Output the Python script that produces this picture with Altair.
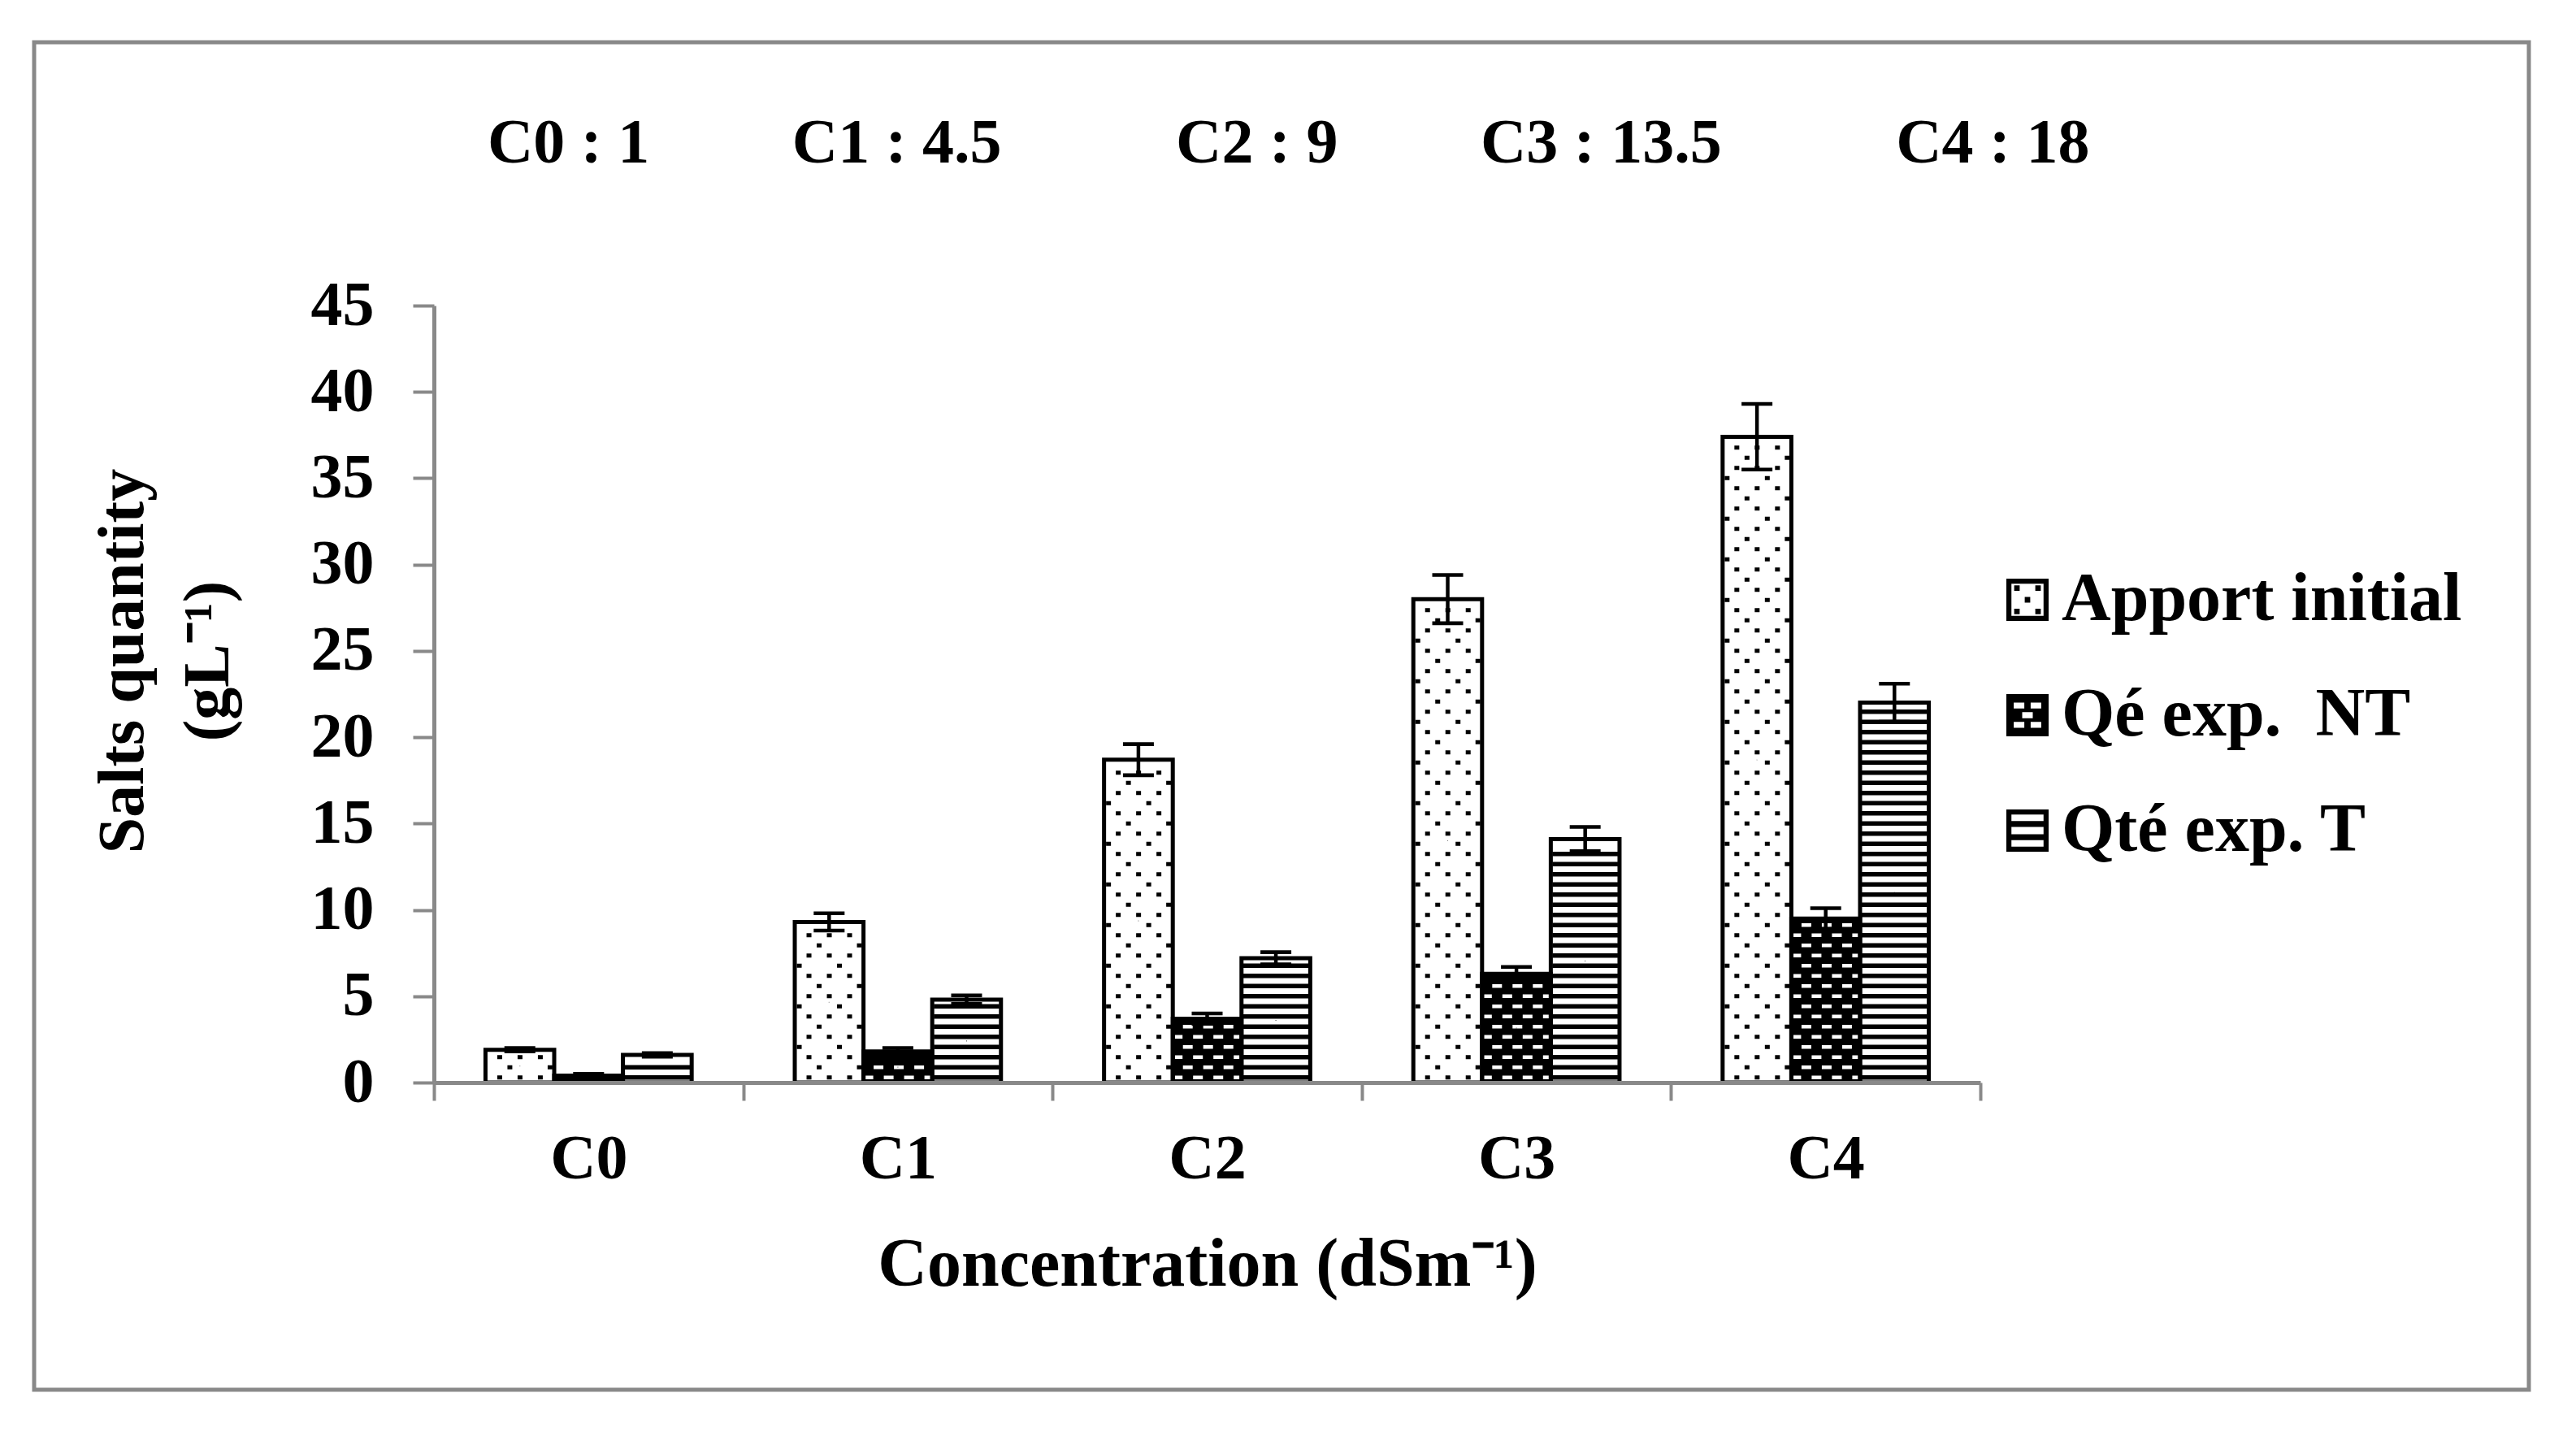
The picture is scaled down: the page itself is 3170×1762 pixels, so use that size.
import altair as alt
import pandas as pd

# ---------------- data ----------------
categories = ["C0", "C1", "C2", "C3", "C4"]
series = ["Apport initial", "Qé exp.\u00a0 NT", "Qté exp. T"]
apport = [1.9, 9.3, 18.7, 28.0, 37.4]
apport_err = [0.1, 0.5, 0.9, 1.4, 1.9]
nt = [0.4, 1.8, 3.7, 6.3, 9.5]
nt_err = [0.1, 0.2, 0.3, 0.4, 0.6]
tt = [1.6, 4.8, 7.2, 14.1, 22.0]
tt_err = [0.1, 0.25, 0.35, 0.7, 1.1]
conc_labels = ["C0 : 1", "C1 : 4.5", "C2 : 9", "C3 : 13.5", "C4 : 18"]
conc_gaps = [9, 11, 9, 11]
y_ticks = [0, 5, 10, 15, 20, 25, 30, 35, 40, 45]

# ---------------- styling ----------------
W, H = 1903, 956
GRAY = "#898989"
FONT = "Liberation Serif"
SUB = W / len(categories) / 4.5      # width of one bar in px
S = SUB / 2.0                        # px per unit of a custom symbol path
ROW = 12.5 * 45 / H                  # hatch pitch (12.5 px) in data units

rows = []
for s, vals, errs in zip(series, [apport, nt, tt], [apport_err, nt_err, tt_err]):
    for c, v, e in zip(categories, vals, errs):
        rows.append(dict(cat=c, series=s, value=v, lo=v - e, hi=v + e, mid=v / 2))
bars = pd.DataFrame(rows)


def u(px):
    return (px - SUB / 2.0) / S


def row_path(intervals, half_h):
    t, b = -half_h / S, half_h / S
    return "".join(f"M{u(a):.4f},{t:.4f}H{u(z):.4f}V{b:.4f}H{u(a):.4f}Z" for a, z in intervals)


def dots(centers, hw=3.0, hh=2.5):
    return row_path([(c - hw, c + hw) for c in centers], hh)


pattern_paths = {
    "A0": dots([17.5, 42.5, 67.5]),
    "A1": dots([30.0, 79.5]),
    "A2": dots([17.5, 42.5, 67.5]),
    "A3": dots([5.5, 55.0]),
    "N0": row_path([(2, 12), (25, 37), (50, 62), (75, 83)], 2.3),
    "N1": row_path([(12.5, 24.5), (37.5, 49.5), (62.5, 74.5)], 2.3),
    "T": row_path([(2, SUB - 2)], 2.75),
}
ptypes = list(pattern_paths.keys())

prow = []
for s, vals in zip(series, [apport, nt, tt]):
    for c, v in zip(categories, vals):
        k = 0
        while (k + 1) * ROW <= v - 0.05:
            if s == series[0]:
                p = f"A{k % 4}"
            elif s == series[1]:
                p = f"N{k % 2}"
            else:
                p = "T"
            prow.append(dict(cat=c, series=s, yc=(k + 0.5) * ROW, ptype=p))
            k += 1
patt = pd.DataFrame(prow)


def sq_cw(x0, y0, x1, y1):
    return f"M{x0},{y0}H{x1}V{y1}H{x0}Z"


def sq_ccw(x0, y0, x1, y1):
    return f"M{x0},{y0}V{y1}H{x1}V{y0}Z"


leg_apport = (sq_cw(-1, -1, 1, 1) + sq_ccw(-0.76, -0.76, 0.76, 0.76)
              + "".join(sq_cw(x - 0.13, y - 0.13, x + 0.13, y + 0.13)
                        for x, y in [(-0.5, -0.55), (0.5, -0.55), (0, 0), (-0.5, 0.55), (0.5, 0.55)]))
leg_nt = (sq_cw(-1, -1, 1, 1)
          + sq_ccw(-0.65, -0.6, -0.15, -0.32) + sq_ccw(0.15, -0.6, 0.65, -0.32)
          + sq_ccw(-0.25, -0.14, 0.25, 0.14)
          + sq_ccw(-0.65, 0.32, -0.15, 0.6) + sq_ccw(0.15, 0.32, 0.65, 0.6))
leg_t = (sq_cw(-1, -1, 1, 1) + sq_ccw(-0.76, -0.76, 0.76, 0.76)
         + sq_cw(-0.76, -0.45, 0.76, -0.17) + sq_cw(-0.76, 0.17, 0.76, 0.45))
legend_paths = [leg_apport, leg_nt, leg_t]

cap_path = "M-1,-0.12H1V0.12H-1Z"
CAP = 38

# ---------------- encodings ----------------
x_axis = alt.Axis(
    title="Concentration (dSm\u207b\u00b9)", titleFont=FONT, titleFontSize=84, titleFontWeight="bold",
    titleColor="black", titleBaseline="alphabetic", titleY=249,
    labelFont=FONT, labelFontSize=78, labelFontWeight="bold", labelColor="black", labelAngle=0,
    labelPadding=33, tickBand="extent", tickColor=GRAY, tickWidth=4, tickSize=22,
    domainColor=GRAY, domainWidth=5, grid=False, zindex=1,
)
y_axis = alt.Axis(
    title=["Salts quantity", "(gL\u207b\u00b9)"], titleFont=FONT, titleFontSize=80, titleFontWeight="bold",
    titleColor="black", titleAngle=270, titleBaseline="alphabetic", titleAlign="center",
    titleLineHeight=105, titleX=-359, titleY=437,
    values=y_ticks, labelFont=FONT, labelFontSize=78, labelFontWeight="bold", labelColor="black",
    labelPadding=48, tickColor=GRAY, tickWidth=4, tickSize=26,
    domainColor=GRAY, domainWidth=5, grid=False, zindex=1,
)
x_enc = alt.X("cat:N", sort=categories, axis=x_axis,
              scale=alt.Scale(domain=categories, paddingInner=0, paddingOuter=0))
xo_enc = alt.XOffset("series:N", sort=series,
                     scale=alt.Scale(domain=series, paddingInner=0, paddingOuter=0.75))
y_scale = alt.Scale(domain=[0, 45], nice=False)

base = alt.Chart(bars)

fill_layer = base.mark_bar(strokeWidth=0).encode(
    x=x_enc, xOffset=xo_enc,
    y=alt.Y("value:Q", scale=y_scale, axis=y_axis),
    fill=alt.condition(alt.datum.series == series[1], alt.value("black"), alt.value("white")),
)

pattern_layer = alt.Chart(patt).mark_point(filled=True, opacity=1, strokeWidth=0, size=SUB * SUB).encode(
    x=x_enc, xOffset=xo_enc,
    y=alt.Y("yc:Q", scale=y_scale, axis=y_axis),
    shape=alt.Shape("ptype:N", scale=alt.Scale(domain=ptypes, range=[pattern_paths[p] for p in ptypes]),
                    legend=None),
    color=alt.condition(alt.datum.series == series[1], alt.value("white"), alt.value("black")),
)

legend_layer = base.mark_point(filled=True, opacity=1, strokeWidth=0, size=1, color="black").encode(
    x=x_enc, xOffset=xo_enc,
    y=alt.Y("mid:Q", scale=y_scale, axis=y_axis),
    shape=alt.Shape("series:N", sort=series,
                    scale=alt.Scale(domain=series, range=legend_paths),
                    legend=alt.Legend(
                        title=None, orient="none", legendX=1919, legendY=320, padding=0,
                        labelFont=FONT, labelFontSize=84, labelFontWeight="bold", labelColor="black",
                        labelOffset=0, labelLimit=0, symbolSize=2704, symbolStrokeWidth=0,
                        symbolFillColor="black", symbolOpacity=1, rowPadding=58,
                    )),
)

outline_layer = base.mark_bar(fillOpacity=0, stroke="black", strokeWidth=5).encode(
    x=x_enc, xOffset=xo_enc,
    y=alt.Y("value:Q", scale=y_scale, axis=y_axis),
)

err_rule = base.mark_rule(color="black", strokeWidth=4.5).encode(
    x=x_enc, xOffset=xo_enc,
    y=alt.Y("lo:Q", scale=y_scale, axis=y_axis), y2="hi:Q",
)
cap_lo = base.mark_point(filled=True, opacity=1, strokeWidth=0, color="black",
                         shape=cap_path, size=CAP * CAP).encode(
    x=x_enc, xOffset=xo_enc, y=alt.Y("lo:Q", scale=y_scale, axis=y_axis))
cap_hi = base.mark_point(filled=True, opacity=1, strokeWidth=0, color="black",
                         shape=cap_path, size=CAP * CAP).encode(
    x=x_enc, xOffset=xo_enc, y=alt.Y("hi:Q", scale=y_scale, axis=y_axis))

border = alt.Chart(pd.DataFrame({"k": [0]})).mark_rect(
    fillOpacity=0, stroke=GRAY, strokeWidth=5
).encode(x=alt.value(-492), x2=alt.value(2578), y=alt.value(-324), y2=alt.value(1334))

nb = "\u00a0"
title_text = conc_labels[0]
for g, lab in zip(conc_gaps, conc_labels[1:]):
    title_text += nb * g + lab

chart = alt.layer(
    fill_layer, pattern_layer, legend_layer, outline_layer, err_rule, cap_lo, cap_hi, border
).resolve_scale(shape="independent").properties(
    width=W, height=H,
    autosize=alt.AutoSizeParams(type="none"),
    padding={"left": 526, "top": 368, "right": 700, "bottom": 400},
    title=alt.TitleParams(text=title_text, font=FONT, fontSize=78, fontWeight="bold", color="black",
                          anchor="start", frame="group", dx=66, offset=-228, baseline="alphabetic"),
).configure(background="white", view=alt.ViewConfig(stroke=None))

chart.save("out.html", embed_options={"renderer": "svg", "actions": False})
